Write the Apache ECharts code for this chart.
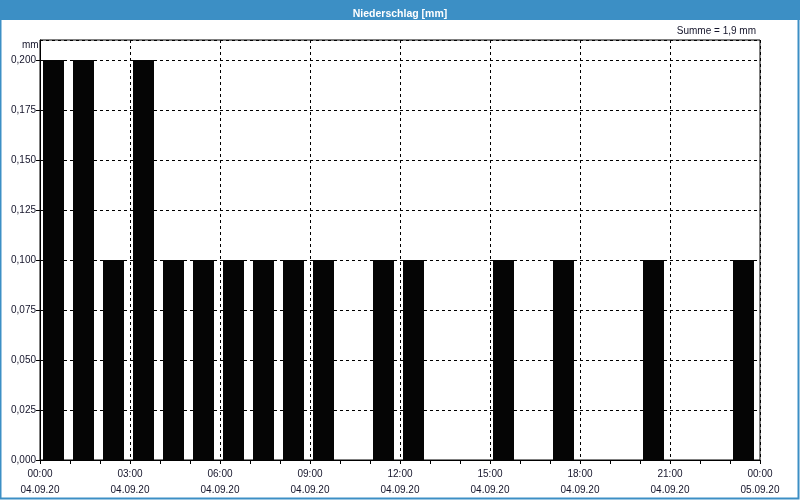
<!DOCTYPE html>
<html><head><meta charset="utf-8">
<script src="https://cdn.jsdelivr.net/npm/echarts@6/dist/echarts.min.js"></script>
<style>html,body{margin:0;padding:0;background:#fff}#c{width:800px;height:500px}</style>
</head><body><div id="c"></div>
<script>
var hours = [0,1,2,3,4,5,6,7,8,9,10,11,12,13,14,15,16,17,18,19,20,21,22,23];
var values = [0.2,0.2,0.1,0.2,0.1,0.1,0.1,0.1,0.1,0.1,0,0.1,0.1,0,0,0.1,0,0.1,0,0,0.1,0,0,0.1];
var xTickLabels = ['00:00\n04.09.20','03:00\n04.09.20','06:00\n04.09.20','09:00\n04.09.20','12:00\n04.09.20','15:00\n04.09.20','18:00\n04.09.20','21:00\n04.09.20','00:00\n05.09.20'];
var titleText = 'Niederschlag [mm]';
var sumText = 'Summe = 1,9 mm';
var unitText = 'mm';

var font = 'Liberation Sans';
var txtColor = '#14142a';
var chart = echarts.init(document.getElementById('c'), null, {renderer:'canvas'});
var data = [];
for (var i = 0; i < hours.length; i++) { if (values[i] > 0) data.push([hours[i] + 0.45, values[i]]); }

chart.setOption({
  backgroundColor: '#ffffff',
  animation: false,
  title: { text: titleText, left: 'center', top: 4, textStyle: { color: '#ffffff', fontWeight: 'bold', fontSize: 10.5, fontFamily: font } },
  grid: { left: 40, right: 40, top: 40, bottom: 40, show: true, borderColor: '#000', borderWidth: 1, backgroundColor: '#ffffff' },
  xAxis: {
    type: 'value', min: 0, max: 24, interval: 3,
    axisLine: { lineStyle: { color: '#000', width: 1 } },
    axisTick: { show: true, length: 4, lineStyle: { color: '#000' } },
    minorTick: { show: true, splitNumber: 3, length: 4, lineStyle: { color: '#000' } },
    splitLine: { show: true, lineStyle: { color: '#000', type: [3,3], width: 1 } },
    axisLabel: { color: txtColor, fontFamily: font, fontSize: 10, lineHeight: 16, margin: 6,
      formatter: function (v) { return xTickLabels[Math.round(v / 3)] || ''; } }
  },
  yAxis: {
    type: 'value', min: 0, max: 0.21, interval: 0.025,
    axisLine: { show: true, lineStyle: { color: '#000', width: 1 } },
    axisTick: { show: true, length: 4, lineStyle: { color: '#000' } },
    splitLine: { show: true, lineStyle: { color: '#000', type: [3,3], width: 1 } },
    axisLabel: { color: txtColor, fontFamily: font, fontSize: 10, margin: 4, showMaxLabel: false,
      formatter: function (v) { return v > 0.205 ? '' : v.toFixed(3).replace('.', ','); } }
  },
  series: [{ type: 'bar', data: data, barWidth: 21, itemStyle: { color: '#050505' }, z: 3 }],
  graphic: [
    { type: 'rect', z: -1, shape: { x: 0, y: 0, width: 800, height: 20 }, style: { fill: '#3c8fc5' } },
    { type: 'rect', z: 100, shape: { x: 0.5, y: 0.5, width: 798, height: 498 }, style: { fill: null, stroke: '#3c8fc5', lineWidth: 2 } },
    { type: 'text', left: 22, top: 40, style: { text: unitText, fill: txtColor, font: '10px ' + font } },
    { type: 'text', right: 44, top: 26, style: { text: sumText, fill: txtColor, font: '10px ' + font } }
  ]
});
</script></body></html>
